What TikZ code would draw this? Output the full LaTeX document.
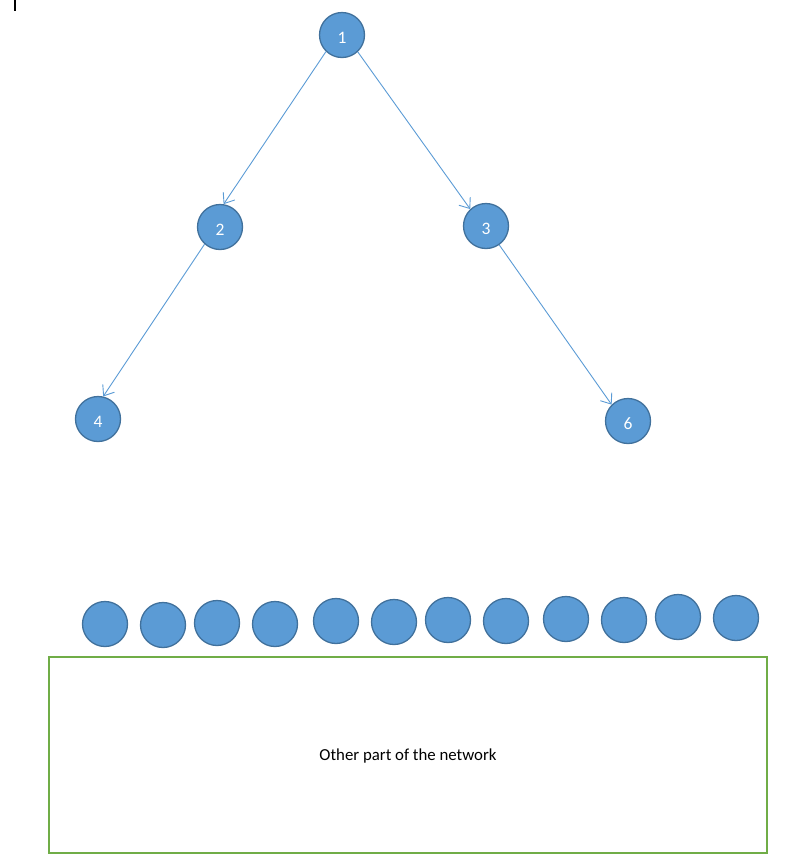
\documentclass[tikz,border=0pt]{standalone}
\usepackage{fontspec}
\setmainfont{Carlito}
\usetikzlibrary{arrows.meta}
\definecolor{nodefill}{HTML}{5B9BD5}
\definecolor{nodeedge}{HTML}{41719C}
\definecolor{boxgreen}{HTML}{70AD47}
\tikzset{
  treenode/.style={circle, fill=nodefill, draw=nodeedge, line width=1.3pt, minimum size=45pt, inner sep=0pt, text=white, text height=17pt, text depth=0pt, font=\fontsize{17.5}{20}\selectfont},
  link/.style={draw=nodefill, line width=0.9pt, -{Straight Barb[length=9pt,width=14pt,line width=0.9pt]}},
  networkbox/.style={draw=boxgreen, line width=1.8pt, minimum width=718pt, minimum height=196pt, inner sep=0pt, font=\fontsize{16.8}{19}\selectfont}
}
\begin{document}
\begin{tikzpicture}[x=1pt,y=-1pt]
\useasboundingbox (0,0) rectangle (806,868);
\draw[line width=1.6pt] (15,0) -- (15,11);
\node[treenode] (n1) at (342,35) {1};
\node[treenode] (n2) at (220,227) {2};
\node[treenode] (n3) at (486,226) {3};
\node[treenode] (n4) at (98,419) {4};
\node[treenode] (n6) at (628,421) {6};
\draw[link] (n1.226) -- (n2.81);
\draw[link] (n1.313) -- (n3.133);
\draw[link] (n2.228) -- (n4.77);
\draw[link] (n3.305) -- (n6.135);
\foreach \i/\x/\y in {1/105/624,2/163/625,3/217/623,4/275/624,5/336/621,6/394/622,7/448/620,8/506/621,9/566/619,10/624/620,11/678/617,12/736/618}{
  \node[treenode] (b\i) at (\x,\y) {};
}
\node[networkbox] (net) at (408,755) {};
\node[font=\fontsize{16.8}{19}\selectfont, inner sep=0pt] (nettext) at (408,756) {Other part of the network};
\end{tikzpicture}
\end{document}
